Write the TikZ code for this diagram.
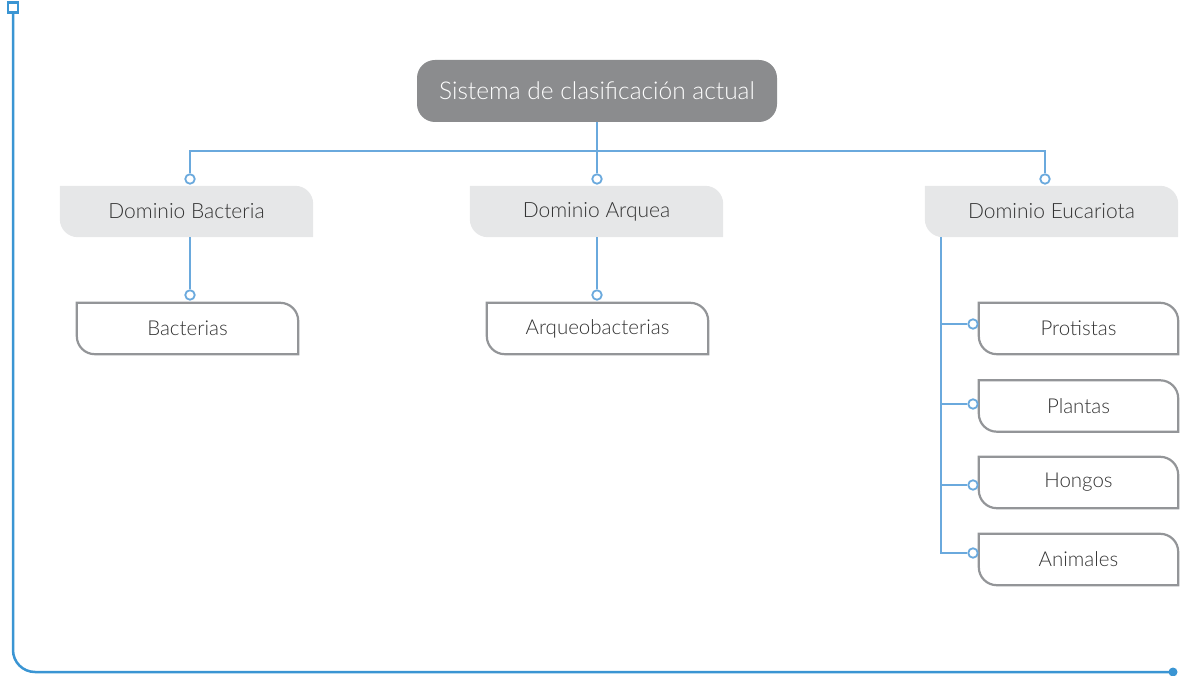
\documentclass[tikz,border=0pt]{standalone}
\usepackage{fontspec}
\setmainfont{Lato Light}
\usetikzlibrary{backgrounds}

\definecolor{frameblue}{HTML}{3A95D3}
\definecolor{linkblue}{HTML}{6AA9DD}
\definecolor{rootgray}{HTML}{8B8C8E}
\definecolor{tabgray}{HTML}{E6E7E8}
\definecolor{edgegray}{HTML}{939598}
\definecolor{txtgray}{HTML}{333333}

% box with a rounded top-right and bottom-left corner
\newcommand\tabpath[3]{%
  \path[#2] (#1.north west) -- ([xshift=-#3]#1.north east)
    arc[start angle=90,end angle=0,radius=#3] -- (#1.south east)
    -- ([xshift=#3]#1.south west)
    arc[start angle=270,end angle=180,radius=#3] -- cycle;}
% label set a little below the box centre
\newcommand\lowtext[1]{\raisebox{-2pt}{#1}}

\tikzset{
  frameline/.style={draw=frameblue, line width=2.5pt},
  link/.style={draw=linkblue, line width=2pt},
  pin/.style={circle, draw=linkblue, fill=white, line width=1.8pt,
    minimum size=9.5pt, inner sep=0pt},
  rootbox/.style={rounded corners=18pt, fill=rootgray, text=white,
    minimum width=360pt, minimum height=62pt, inner sep=0pt,
    font=\fontsize{24.5}{28}\selectfont},
  domainbox/.style={minimum width=253pt, minimum height=51pt, inner sep=0pt,
    text=txtgray, font=\fontsize{21}{24}\selectfont},
  leafbox/.style={minimum height=51pt, inner sep=0pt,
    text=txtgray, font=\fontsize{20.5}{24}\selectfont},
  tabfill/.style={fill=tabgray},
  tabedge/.style={draw=edgegray, line width=2.2pt, fill=white},
}

\begin{document}
\begin{tikzpicture}[x=1pt,y=1pt]
\useasboundingbox (0,0) rectangle (1181,-676);

% outer frame
\coordinate (ftop) at (13,-12);
\coordinate (fend) at (1173,-672);
\draw[frameline] (ftop) -- (13,-650) arc[start angle=180,end angle=270,radius=22] -- (fend);
\node[draw=frameblue, line width=2.2pt, fill=white, minimum size=10pt, inner sep=0pt] (fbox) at (13,-7.5) {};
\fill[frameblue] (fend) circle[radius=4.5];

% root
\node[rootbox] (root) at (597,-91) {\raisebox{-1.5pt}{Sistema de clasificación actual}};

% domains
\node[domainbox] (bact) at (186.5,-211.5) {\lowtext{Dominio Bacteria}};
\node[domainbox] (arq)  at (596.5,-211.5) {\lowtext{Dominio Arquea}};
\node[domainbox] (euc)  at (1051.5,-211.5) {\lowtext{Dominio Eucariota}};

% leaves
\node[leafbox, minimum width=221pt] (lbac) at (187.5,-328.5) {\lowtext{Bacterias}};
\node[leafbox, minimum width=221pt] (larq) at (597.5,-328.5) {\lowtext{Arqueobacterias}};
\node[leafbox, minimum width=199pt] (lpro) at (1078.5,-328.5) {\lowtext{Protistas}};
\node[leafbox, minimum width=199pt] (lpla) at (1078.5,-406) {\lowtext{Plantas}};
\node[leafbox, minimum width=199pt] (lhon) at (1078.5,-482.5) {\lowtext{Hongos}};
\node[leafbox, minimum width=199pt] (lani) at (1078.5,-559.5) {\lowtext{Animales}};

\begin{scope}[on background layer]
  \tabpath{bact}{tabfill}{18pt}
  \tabpath{arq}{tabfill}{18pt}
  \tabpath{euc}{tabfill}{18pt}
  \tabpath{lbac}{tabedge}{18pt}
  \tabpath{larq}{tabedge}{18pt}
  \tabpath{lpro}{tabedge}{18pt}
  \tabpath{lpla}{tabedge}{18pt}
  \tabpath{lhon}{tabedge}{18pt}
  \tabpath{lani}{tabedge}{18pt}
\end{scope}

% connector pins
\node[pin] (pb) at (190,-179) {};
\node[pin] (pa) at (597,-179) {};
\node[pin] (pe) at (1045,-179) {};
\node[pin] (qb) at (190,-295) {};
\node[pin] (qa) at (597,-295) {};
\node[pin] (qpro) at (973,-324) {};
\node[pin] (qpla) at (973,-404) {};
\node[pin] (qhon) at (973,-485) {};
\node[pin] (qani) at (973,-553) {};

% connectors
\coordinate (bus) at (597,-151);
\coordinate (spine) at (941,-553);
\draw[link] (root.south) -- (bus);
\draw[link] (pb.north) |- (bus) -| (pe.north);
\draw[link] (bus) -- (pa.north);
\draw[link] (qb.north) -- (qb.north |- bact.south);
\draw[link] (qa.north) -- (qa.north |- arq.south);
\draw[link] (spine |- euc.south) -- (spine) -- (qani.west);
\draw[link] (spine |- qpro) -- (qpro.west);
\draw[link] (spine |- qpla) -- (qpla.west);
\draw[link] (spine |- qhon) -- (qhon.west);
\end{tikzpicture}
\end{document}
